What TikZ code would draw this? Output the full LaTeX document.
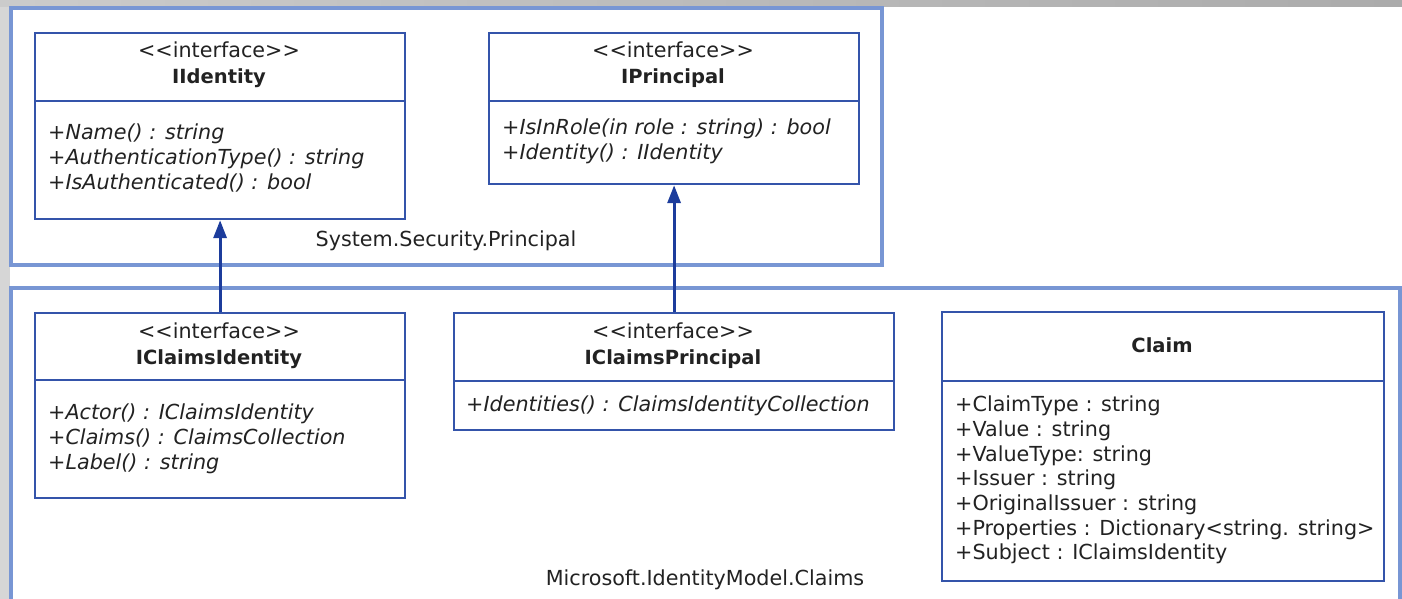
\documentclass[tikz,border=0pt]{standalone}
\usepackage{fontspec}
\setmainfont{DejaVu Sans}
\usetikzlibrary{arrows.meta}

\definecolor{pkgblue}{HTML}{7896D4}
\definecolor{boxblue}{HTML}{3454AA}
\definecolor{arrowblue}{HTML}{1C3C9C}
\definecolor{inkgray}{HTML}{222222}
\definecolor{edgegray}{HTML}{D6D6D6}

\tikzset{
  pkgbox/.style={draw=pkgblue, line width=3.2pt},
  classbox/.style={draw=boxblue, line width=2.2pt, fill=white, inner sep=0pt, anchor=north west},
  divider/.style={draw=boxblue, line width=2.2pt},
  umltext/.style={font=\fontsize{20.7}{25}\selectfont, text=inkgray, inner sep=0pt},
  stereo/.style={umltext, anchor=base},
  classname/.style={umltext, anchor=base, font=\fontsize{19.5}{24}\selectfont\bfseries},
  member/.style={umltext, anchor=base west},
  opmember/.style={member, font=\fontsize{20.7}{25}\selectfont\itshape},
  pkglabel/.style={umltext, anchor=base},
  inherit/.style={draw=arrowblue, line width=3.2pt, -{Triangle[width=13pt,length=18pt]}}
}

\begin{document}
\begin{tikzpicture}[x=1pt, y=-1pt]
  \clip (0,0) rectangle (1402,599);
  \useasboundingbox (0,0) rectangle (1402,599);

  % window edges
  \fill[edgegray] (0,0) rectangle (10,599);
  \shade[left color=edgegray!95!black, right color=black!33] (0,0) rectangle (1402,7);

  % packages
  \draw[pkgbox] (11,8) rectangle (882,265);
  \draw[pkgbox] (11,620) |- (1400,288) -- (1400,620);
  \node[pkglabel] (sysprincipal) at (446,246) {System.Security.Principal};
  \node[pkglabel] (idmodelclaims) at (705,585) {Microsoft.IdentityModel.Claims};

  % IIdentity
  \node[classbox, minimum width=370pt, minimum height=186pt] (iidentity) at (34,32) {};
  \draw[divider] (iidentity.west |- 0,101) -- (iidentity.east |- 0,101);
  \node[stereo] (iidentity_st) at (219,58) {<\kern0pt<interface>\kern0pt>};
  \node[classname] (iidentity_nm) at (219,84) {IIdentity};
  \foreach \txt [count=\i] in {+Name() : string, +AuthenticationType() : string, +IsAuthenticated() : bool}
    \node[opmember] (iidentity_m\i) at (48,115+24.7*\i) {\txt};

  % IPrincipal
  \node[classbox, minimum width=370pt, minimum height=151pt] (iprincipal) at (488,32) {};
  \draw[divider] (iprincipal.west |- 0,101) -- (iprincipal.east |- 0,101);
  \node[stereo] (iprincipal_st) at (673,58) {<\kern0pt<interface>\kern0pt>};
  \node[classname] (iprincipal_nm) at (673,84) {IPrincipal};
  \foreach \txt [count=\i] in {+IsInRole(in role : string) : bool, +Identity() : IIdentity}
    \node[opmember] (iprincipal_m\i) at (502,110+24.7*\i) {\txt};

  % IClaimsIdentity
  \node[classbox, minimum width=370pt, minimum height=185pt] (iclaimsidentity) at (34,312) {};
  \draw[divider] (iclaimsidentity.west |- 0,380) -- (iclaimsidentity.east |- 0,380);
  \node[stereo] (iclaimsidentity_st) at (219,338) {<\kern0pt<interface>\kern0pt>};
  \node[classname] (iclaimsidentity_nm) at (219,364) {IClaimsIdentity};
  \foreach \txt [count=\i] in {+Actor() : IClaimsIdentity, +Claims() : ClaimsCollection, +Label() : string}
    \node[opmember] (iclaimsidentity_m\i) at (48,395+24.7*\i) {\txt};

  % IClaimsPrincipal
  \node[classbox, minimum width=440pt, minimum height=117pt] (iclaimsprincipal) at (453,312) {};
  \draw[divider] (iclaimsprincipal.west |- 0,381) -- (iclaimsprincipal.east |- 0,381);
  \node[stereo] (iclaimsprincipal_st) at (673,338) {<\kern0pt<interface>\kern0pt>};
  \node[classname] (iclaimsprincipal_nm) at (673,364) {IClaimsPrincipal};
  \node[opmember] (iclaimsprincipal_m1) at (466,411) {+Identities() : ClaimsIdentityCollection};

  % Claim
  \node[classbox, minimum width=442pt, minimum height=269pt] (claim) at (941,311) {};
  \draw[divider] (claim.west |- 0,381) -- (claim.east |- 0,381);
  \node[classname] (claim_nm) at (1162,352) {Claim};
  \foreach \txt [count=\i] in {+ClaimType : string, +Value : string, +ValueType: string, +Issuer : string,
      +OriginalIssuer : string, +Properties : Dictionary<string. string>, +Subject : IClaimsIdentity}
    \node[member] (claim_m\i) at (955,387+24.7*\i) {\txt};

  % inheritance
  \draw[inherit] (iclaimsidentity.north) -- (iidentity.south);
  \draw[inherit] (iclaimsprincipal.north) -- (iprincipal.south);
\end{tikzpicture}
\end{document}
